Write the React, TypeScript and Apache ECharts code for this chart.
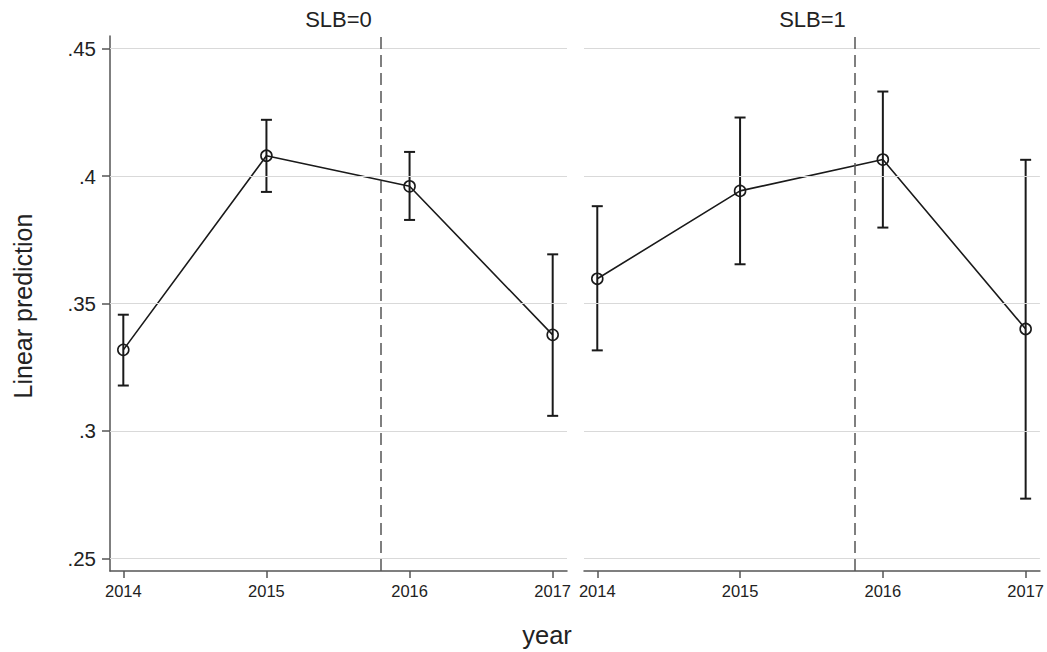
import React, { useEffect, useRef } from "react";
import * as echarts from "echarts";

const years = [2014, 2015, 2016, 2017];
const slb0Est = [0.3318, 0.408, 0.396, 0.3377];
const slb0Lo = [0.3178, 0.3938, 0.3828, 0.3059];
const slb0Hi = [0.3456, 0.4221, 0.4095, 0.3693];
const slb1Est = [0.3597, 0.3942, 0.4065, 0.34];
const slb1Lo = [0.3316, 0.3654, 0.3798, 0.2734];
const slb1Hi = [0.3882, 0.423, 0.4332, 0.4064];
const yTicks = [0.25, 0.3, 0.35, 0.4, 0.45];
const cutoff = 2015.8;
const panelTitles = ["SLB=0", "SLB=1"];

const FONT = "'Liberation Sans', Arial, Helvetica, sans-serif";
const INK = "#1a1a1a";
const AXIS = "#555555";
const GRIDC = "#d9d9d9";

export default function App() {
  const ref = useRef<HTMLDivElement>(null);
  useEffect(() => {
    if (!ref.current) return;
    const chart = echarts.init(ref.current, null, { renderer: "svg" });

    const grids = [
      { left: 110, top: 36, width: 457, height: 535 },
      { left: 584, top: 36, width: 457, height: 535 },
    ];

    const fmtY = (v: number) =>
      Number(v.toFixed(2)).toString().replace(/^0/, "");

    const xAxes = [0, 1].map((i) => ({
      type: "value",
      gridIndex: i,
      min: 2013.907,
      max: 2017.1,
      axisLine: { show: true, lineStyle: { color: AXIS, width: 1.5 } },
      axisTick: {
        show: true,
        length: 7,
        customValues: years,
        lineStyle: { color: AXIS, width: 1.5 },
      },
      axisLabel: {
        show: true,
        customValues: years,
        formatter: (v: number) => String(Math.round(v)),
        fontSize: 16.5,
        color: "#222",
        fontFamily: FONT,
        margin: 11,
      },
      splitLine: { show: false },
    }));

    const yAxes = [0, 1].map((i) => ({
      type: "value",
      gridIndex: i,
      min: 0.245,
      max: 0.455,
      axisLine: {
        show: i === 0,
        lineStyle: { color: AXIS, width: 1.5 },
      },
      axisTick: {
        show: i === 0,
        length: 8,
        customValues: yTicks,
        lineStyle: { color: AXIS, width: 1.5 },
      },
      axisLabel: {
        show: i === 0,
        customValues: yTicks,
        formatter: fmtY,
        fontSize: 20.5,
        color: "#222",
        fontFamily: FONT,
        margin: 14,
      },
      splitLine: { show: false },
    }));

    const panels = [
      { est: slb0Est, lo: slb0Lo, hi: slb0Hi },
      { est: slb1Est, lo: slb1Lo, hi: slb1Hi },
    ];

    const series: any[] = [];
    panels.forEach((p, i) => {
      series.push({
        type: "line",
        xAxisIndex: i,
        yAxisIndex: i,
        data: [],
        silent: true,
        z: 1,
        markLine: {
          silent: true,
          symbol: "none",
          label: { show: false },
          lineStyle: { type: "solid", color: GRIDC, width: 1 },
          data: yTicks.map((t) => ({ yAxis: t })),
        },
      });
      series.push({
        type: "line",
        xAxisIndex: i,
        yAxisIndex: i,
        data: [],
        silent: true,
        z: 2,
        markLine: {
          silent: true,
          symbol: "none",
          label: { show: false },
          lineStyle: { type: [12, 6], color: AXIS, width: 1.5 },
          data: [{ xAxis: cutoff }],
        },
      });
      series.push({
        type: "custom",
        xAxisIndex: i,
        yAxisIndex: i,
        z: 3,
        data: years.map((y, k) => [y, p.lo[k], p.hi[k]]),
        renderItem: (params: any, api: any) => {
          const x = api.value(0);
          const a = api.coord([x, api.value(1)]);
          const b = api.coord([x, api.value(2)]);
          const w = 5.5;
          const st = { stroke: INK, lineWidth: 2 };
          return {
            type: "group",
            children: [
              { type: "line", shape: { x1: a[0], y1: a[1], x2: b[0], y2: b[1] }, style: st },
              { type: "line", shape: { x1: a[0] - w, y1: a[1], x2: a[0] + w, y2: a[1] }, style: st },
              { type: "line", shape: { x1: b[0] - w, y1: b[1], x2: b[0] + w, y2: b[1] }, style: st },
            ],
          };
        },
      });
      series.push({
        type: "line",
        xAxisIndex: i,
        yAxisIndex: i,
        z: 4,
        data: years.map((y, k) => [y, p.est[k]]),
        symbol: "circle",
        symbolSize: 11,
        showAllSymbol: true,
        lineStyle: { color: INK, width: 1.6 },
        itemStyle: { color: "rgba(0,0,0,0)", borderColor: INK, borderWidth: 1.6 },
      });
    });

    const txt = (text: string, x: number, y: number, size: number, rot = 0) => ({
      type: "text",
      x,
      y,
      rotation: rot,
      style: {
        text,
        fontSize: size,
        fontFamily: FONT,
        fill: "#222",
        align: "center",
        verticalAlign: "middle",
      },
    });

    chart.setOption({
      animation: false,
      backgroundColor: "#ffffff",
      grid: grids,
      xAxis: xAxes,
      yAxis: yAxes,
      series,
      graphic: [
        txt(panelTitles[0], 338.5, 19, 22),
        txt(panelTitles[1], 812.5, 19, 22),
        txt("Linear prediction", 23, 306, 25, Math.PI / 2),
        txt("year", 547, 635, 25.5),
      ],
    });

    return () => chart.dispose();
  }, []);

  return (
    <div
      ref={ref}
      style={{ position: "fixed", left: 0, top: 0, width: 1047, height: 652, background: "#fff" }}
    />
  );
}
